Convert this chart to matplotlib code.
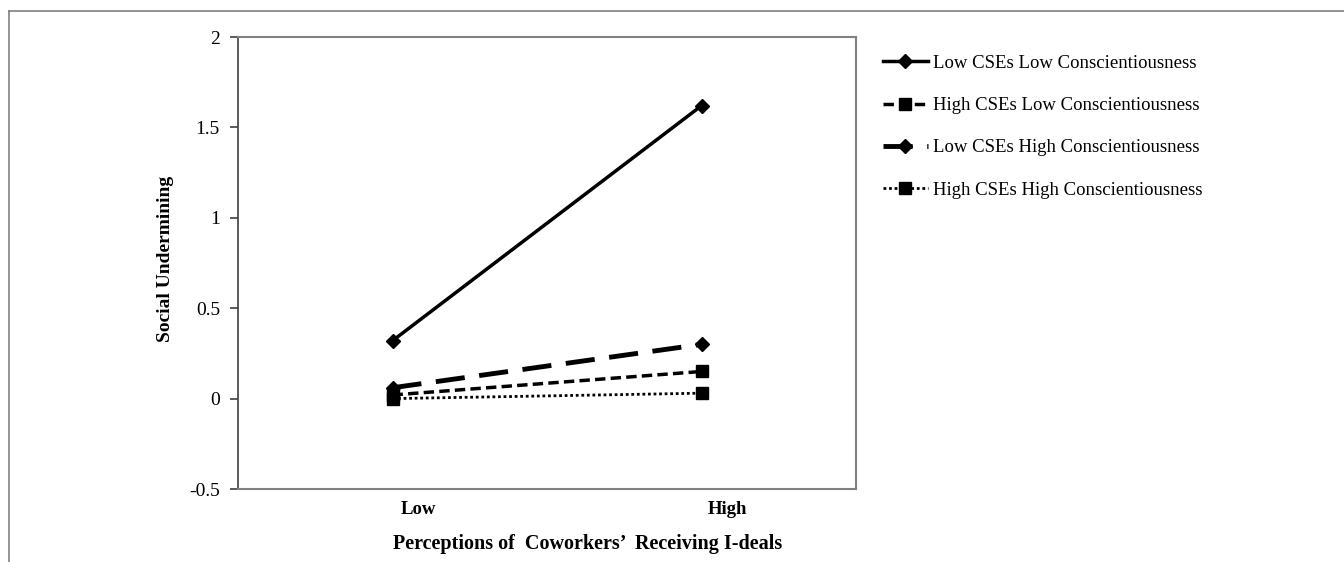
import matplotlib
matplotlib.use("Agg")
import matplotlib.pyplot as plt
from matplotlib.lines import Line2D
from matplotlib.transforms import ScaledTranslation

plt.rcParams['font.family'] = ['Liberation Serif', 'DejaVu Serif']

# -----------------------------
# DATA
# -----------------------------
categories = ["Low", "High"]
series_names = [
    "Low CSEs Low Conscientiousness",
    "High CSEs Low Conscientiousness",
    "Low CSEs High Conscientiousness",
    "High CSEs High Conscientiousness",
]
low_cse_low_consc = [0.32, 1.62]
high_cse_low_consc = [0.02, 0.15]
low_cse_high_consc = [0.06, 0.30]
high_cse_high_consc = [0.00, 0.03]
y_ticks = [-0.5, 0, 0.5, 1, 1.5, 2]
y_ticklabels = ["-0.5", "0", "0.5", "1", "1.5", "2"]

# -----------------------------
# FIGURE
# -----------------------------
fig = plt.figure(figsize=(13.44, 5.62), dpi=100)
ax = fig.add_axes([238 / 1344, 1 - 489 / 562, 618 / 1344, 452 / 562])

x = list(range(len(categories)))
styles = [
    dict(linestyle="-", linewidth=2.5, marker="D", markersize=7),
    dict(linestyle=(0, (3, 1.5)), linewidth=2.5, marker="s", markersize=8.5),
    dict(linestyle=(0, (6, 3)), linewidth=3.5, marker="D", markersize=7),
    dict(linestyle=(0, (1, 1)), linewidth=2, marker="s", markersize=8.5),
]
all_series = [low_cse_low_consc, high_cse_low_consc, low_cse_high_consc, high_cse_high_consc]
for vals, name, st in zip(all_series, series_names, styles):
    ax.plot(x, vals, color="black", label=name, markerfacecolor="black",
            markeredgecolor="black", **st)

ax.set_xlim(-0.5, 1.5)
ax.set_ylim(-0.5, 2)
ax.set_yticks(y_ticks)
ax.set_yticklabels(y_ticklabels)
ax.set_xticks(x)
ax.set_xticklabels(categories, fontweight="bold")
ax.tick_params(axis="y", direction="out", length=6, width=1.2, pad=7, labelsize=14, color="#404040")
ax.tick_params(axis="x", length=0, pad=9, labelsize=13.5)
# category labels sit a little right of the data points
for lbl in ax.get_xticklabels():
    lbl.set_transform(lbl.get_transform() + ScaledTranslation(26 / 100, 0, fig.dpi_scale_trans))

for side in ["top", "right", "bottom"]:
    ax.spines[side].set_color("#808080")
    ax.spines[side].set_linewidth(1.5)
ax.spines["left"].set_color("#404040")
ax.spines["left"].set_linewidth(1.2)

fig.text(166 / 1344, 1 - 259 / 562, "Social Undermining", rotation=90, ha="center", va="center",
         fontsize=14, fontweight="bold")
fig.text(588 / 1344, 1 - 544 / 562, "Perceptions of  Coworkers\u2019  Receiving I-deals",
         ha="center", va="center", fontsize=14.5, fontweight="bold")

fig.legend(loc="upper left", bbox_to_anchor=(875 / 1344, 1 - 47 / 562), frameon=False,
           fontsize=13.5, handlelength=2.4, handletextpad=0.3, labelspacing=1.35,
           borderaxespad=0)

# outer frame around the whole picture
fig.add_artist(Line2D([9 / 1344, 1.01], [1 - 11 / 562, 1 - 11 / 562], transform=fig.transFigure,
                      color="#808080", linewidth=1.2))
fig.add_artist(Line2D([9 / 1344, 9 / 1344], [1 - 11 / 562, -0.01], transform=fig.transFigure,
                      color="#808080", linewidth=1.2))

fig.savefig("out.png", dpi=100)
